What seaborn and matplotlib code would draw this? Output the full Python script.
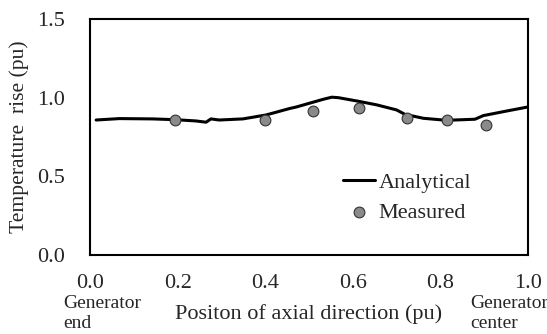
import matplotlib
matplotlib.use("Agg")
import matplotlib.pyplot as plt
import seaborn as sns
import pandas as pd

# Analytical temperature-rise profile along the axial direction
analytical_x = [0.014, 0.067, 0.143, 0.195, 0.242, 0.265, 0.276, 0.295, 0.349,
                0.402, 0.457, 0.470, 0.533, 0.552, 0.567, 0.609, 0.655, 0.700,
                0.719, 0.761, 0.814, 0.879, 0.898, 0.951, 1.000]
analytical_y = [0.858, 0.867, 0.865, 0.860, 0.852, 0.844, 0.865, 0.858, 0.865,
                0.890, 0.932, 0.940, 0.990, 1.003, 1.000, 0.979, 0.954, 0.922,
                0.894, 0.869, 0.856, 0.863, 0.886, 0.915, 0.941]

# Measured temperature rise
measured_x = [0.195, 0.400, 0.508, 0.615, 0.723, 0.814, 0.903]
measured_y = [0.858, 0.858, 0.917, 0.937, 0.869, 0.856, 0.826]

x_ticks = [0.0, 0.2, 0.4, 0.6, 0.8, 1.0]
y_ticks = [0.0, 0.5, 1.0, 1.5]

sns.set_style("white")
plt.rcParams["font.family"] = ["Liberation Serif", "DejaVu Serif"]

df_a = pd.DataFrame({"x": analytical_x, "y": analytical_y})
df_m = pd.DataFrame({"x": measured_x, "y": measured_y})

W, H = 547, 334
fig = plt.figure(figsize=(W / 100, H / 100), dpi=100)
ax = fig.add_axes([90 / W, 1 - 255 / H, (528 - 90) / W, (255 - 19) / H])

sns.lineplot(data=df_a, x="x", y="y", ax=ax, color="black", linewidth=2.2,
             label="Analytical", sort=False)
sns.scatterplot(data=df_m, x="x", y="y", ax=ax, color="#8a8a8a", edgecolor="#333333",
                linewidth=0.8, s=60, label="Measured", zorder=3)

ax.set_xlim(0, 1.0)
ax.set_ylim(0, 1.5)
ax.set_xticks(x_ticks)
ax.set_yticks(y_ticks)
ax.set_xticklabels([f"{v:.1f}" for v in x_ticks], fontsize=16)
ax.set_yticklabels([f"{v:.1f}" for v in y_ticks], fontsize=16)
ax.tick_params(axis="x", length=0, pad=14)
ax.tick_params(axis="y", length=0, pad=18)

for sp in ax.spines.values():
    sp.set_visible(True)
    sp.set_color("black")
    sp.set_linewidth(1.5)

ax.set_xlabel("")
ax.set_ylabel("")
fig.text(19 / W, 1 - 137 / H, "Temperature  rise (pu)", rotation=90,
         ha="center", va="center", fontsize=15.6)
fig.text(309 / W, 1 - 314 / H, "Positon of axial direction (pu)",
         ha="center", va="center", fontsize=16)
fig.text(63 / W, 1 - 303 / H, "Generator", ha="left", va="center", fontsize=14)
fig.text(63 / W, 1 - 323 / H, "end", ha="left", va="center", fontsize=14)
fig.text(470 / W, 1 - 303 / H, "Generator", ha="left", va="center", fontsize=14)
fig.text(470 / W, 1 - 324 / H, "center", ha="left", va="center", fontsize=14)

leg = ax.legend(loc="upper left", bbox_to_anchor=((343 - 90) / 438, (255 - 172) / 236),
                frameon=False, fontsize=16, handlelength=1.45, handletextpad=0.14,
                labelspacing=0.45, borderaxespad=0, borderpad=0)

fig.savefig("out.png", dpi=100)
